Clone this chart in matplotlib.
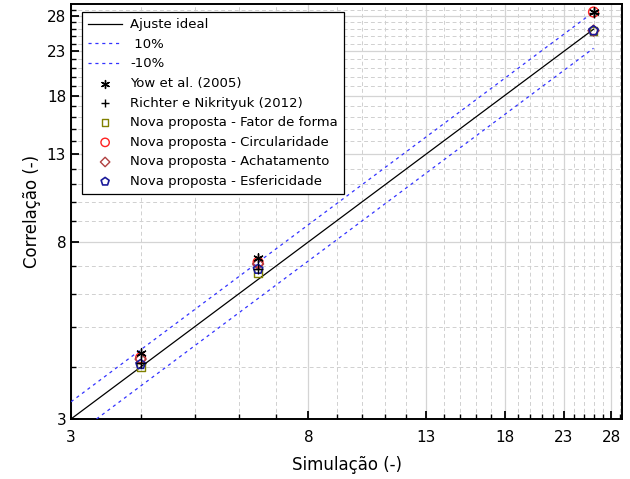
import numpy as np
import matplotlib
matplotlib.use("Agg")
import matplotlib.pyplot as plt
from matplotlib.ticker import FixedLocator, NullFormatter, FixedFormatter

# simulated values and the correlations compared against them
simulacao = [4.0, 6.5, 26.0]
yow = [4.32, 7.32, 28.6]
richter = [4.08, 6.9, 28.5]
fator_forma = [4.0, 6.74, 25.8]
circularidade = [4.21, 7.15, 28.6]
achatamento = [4.18, 7.08, 25.8]
esfericidade = [4.06, 6.88, 25.8]

major_ticks = [3, 8, 13, 18, 23, 28]
minor_ticks = [4, 5, 6, 7, 9, 10, 11, 12, 14, 15, 16, 17, 19, 20, 21, 22, 24, 25, 26, 27, 29]

plt.rcParams["font.family"] = ["DejaVu Sans"]

fig = plt.figure(figsize=(6.3, 4.79), dpi=100)
ax = fig.add_axes([0.1127, 0.1253, 0.8746, 0.8663])

ax.set_xscale("log")
ax.set_yscale("log")

xs = np.array([3.0, max(simulacao)])
ax.plot(xs, xs, color="black", lw=0.9, label="Ajuste ideal", zorder=3)
ax.plot(xs, 1.1 * xs, color="#3333ff", lw=0.9, ls=(0, (2.5, 3)), label=" 10%", zorder=3)
xl = np.array([3.0 / 0.9, max(simulacao)])
ax.plot(xl, 0.9 * xl, color="#3333ff", lw=0.9, ls=(0, (2.5, 3)), label="-10%", zorder=3)

ax.scatter(simulacao, yow, marker=(6, 2, 0), s=45, color="black", lw=1.0,
           label="Yow et al. (2005)", zorder=5)
ax.scatter(simulacao, richter, marker="+", s=45, color="black", lw=1.0,
           label="Richter e Nikrityuk (2012)", zorder=5)
ax.scatter(simulacao, fator_forma, marker="s", s=32, facecolor="none",
           edgecolor="#808000", lw=1.0, label="Nova proposta - Fator de forma", zorder=4)
ax.scatter(simulacao, circularidade, marker="o", s=50, facecolor="none",
           edgecolor="#ff2020", lw=1.0, label="Nova proposta - Circularidade", zorder=4)
ax.scatter(simulacao, achatamento, marker="D", s=32, facecolor="none",
           edgecolor="#b04040", lw=1.0, label="Nova proposta - Achatamento", zorder=4)
ax.scatter(simulacao, esfericidade, marker="p", s=50, facecolor="none",
           edgecolor="#1a1a9a", lw=1.2, label="Nova proposta - Esfericidade", zorder=4)

ax.set_xlim(3, 29.25)
ax.set_ylim(3, 29.9)

for axis in (ax.xaxis, ax.yaxis):
    axis.set_major_locator(FixedLocator(major_ticks))
    axis.set_major_formatter(FixedFormatter([str(t) for t in major_ticks]))
    axis.set_minor_locator(FixedLocator(minor_ticks))
    axis.set_minor_formatter(NullFormatter())

ax.grid(True, which="major", color="#d4d4d4", lw=0.9, ls="-")
ax.grid(True, which="minor", color="#d0d0d0", lw=0.7, ls=(0, (4, 3)))
ax.set_axisbelow(True)

ax.tick_params(which="major", direction="in", length=6, width=1.3, labelsize=11,
               top=False, right=False)
ax.tick_params(which="minor", direction="in", length=3.5, width=1.0,
               top=False, right=False)
ax.tick_params(axis="x", pad=8)
for sp in ax.spines.values():
    sp.set_linewidth(1.4)

ax.set_xlabel("Simulação (-)", fontsize=12, labelpad=8)
ax.set_ylabel("Correlação (-)", fontsize=12, labelpad=4)

leg = ax.legend(loc="upper left", bbox_to_anchor=(0.02, 0.98), fontsize=9.5,
                fancybox=False, edgecolor="black", framealpha=1, borderaxespad=0,
                handlelength=2.6, labelspacing=0.5, borderpad=0.45, handletextpad=0.6,
                markerscale=0.85)
leg.get_frame().set_linewidth(0.9)

fig.savefig("out.png", dpi=100)
